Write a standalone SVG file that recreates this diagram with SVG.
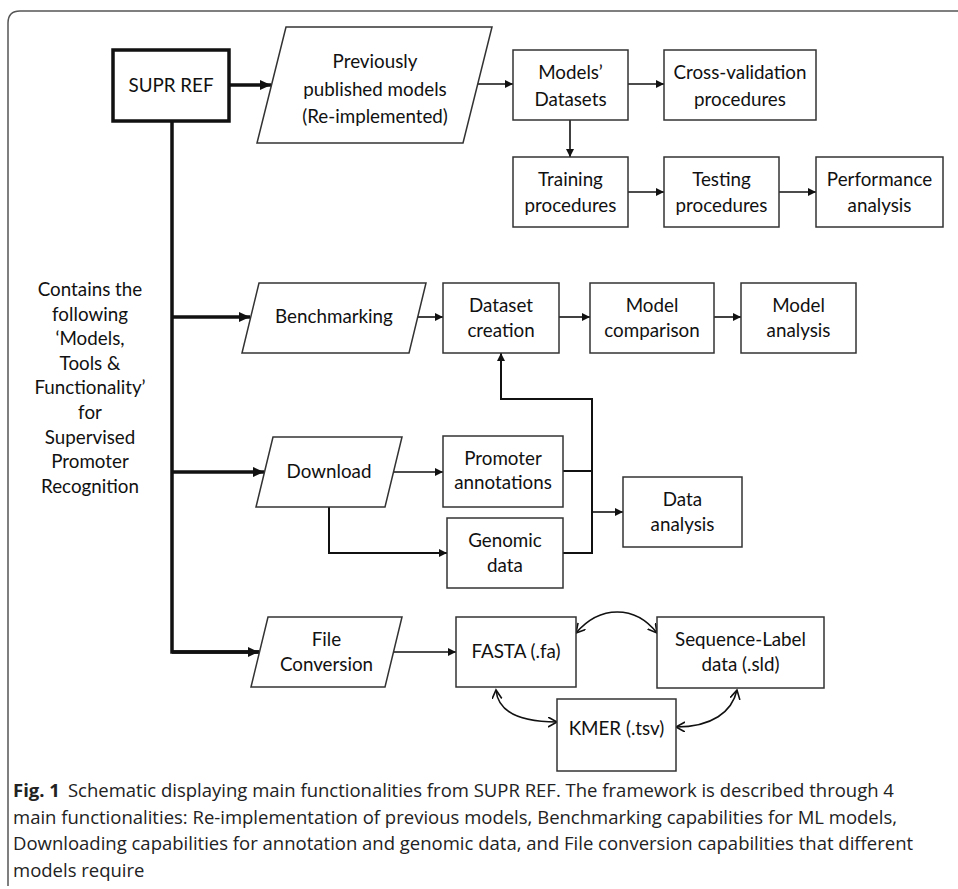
<svg xmlns="http://www.w3.org/2000/svg" width="958" height="889" viewBox="0 0 958 889">
<style>
  .box{fill:#fff;stroke:#333;stroke-width:1.5}
  .thick{fill:#fff;stroke:#111;stroke-width:3.5}
  .t{font-family:Lato,"Liberation Sans",sans-serif;font-size:18.8px;fill:#111;text-anchor:middle}
  .c{fill:none;stroke:#111;stroke-width:1.6}
  .ck{fill:none;stroke:#111;stroke-width:3.5}
  .cap{font-family:"Open Sans","Noto Sans",sans-serif;font-size:18.5px;fill:#222}
</style>
<defs>
  <marker id="a" markerUnits="userSpaceOnUse" markerWidth="10" markerHeight="10" refX="8" refY="4" orient="auto">
    <path d="M0,0 L8,4 L0,8 Z" fill="#111"/>
  </marker>
  <marker id="ak" markerUnits="userSpaceOnUse" markerWidth="14" markerHeight="14" refX="11" refY="5" orient="auto">
    <path d="M0,0 L11,5 L0,10 Z" fill="#111"/>
  </marker>
  <marker id="o" markerUnits="userSpaceOnUse" markerWidth="12" markerHeight="12" refX="9" refY="5" orient="auto-start-reverse">
    <path d="M0,0 L9,5 L0,10" fill="none" stroke="#111" stroke-width="1.6"/>
  </marker>
</defs>
<rect width="958" height="889" fill="#fff"/>
<path d="M8,886 L8,23 Q8,11 20,11 L958,11" fill="none" stroke="#555" stroke-width="1.5"/>

<g id="connectors">
  <path class="ck" d="M229,85 H271" marker-end="url(#ak)"/>
  <path class="ck" d="M172,121 V652 H259"/>
  <path class="ck" d="M172,652 H259" marker-end="url(#ak)"/>
  <path class="ck" d="M172,317 H250" marker-end="url(#ak)"/>
  <path class="ck" d="M172,472 H264" marker-end="url(#ak)"/>
  <path class="c" d="M477,84 H513" marker-end="url(#a)"/>
  <path class="c" d="M628,84 H664" marker-end="url(#a)"/>
  <path class="c" d="M570,120 V157" marker-end="url(#a)"/>
  <path class="c" d="M628,192 H664" marker-end="url(#a)"/>
  <path class="c" d="M779,192 H816" marker-end="url(#a)"/>
  <path class="c" d="M417,317 H443" marker-end="url(#a)"/>
  <path class="c" d="M559,317 H590" marker-end="url(#a)"/>
  <path class="c" d="M714,317 H741" marker-end="url(#a)"/>
  <path class="c" d="M393,472 H443" marker-end="url(#a)"/>
  <path class="c" style="stroke-width:2" d="M329,507 V553 H447" marker-end="url(#a)"/>
  <path class="c" style="stroke-width:2" d="M563,471 H592"/>
  <path class="c" style="stroke-width:2" d="M563,553 H592 V399 H501 V353" marker-end="url(#a)"/>
  <path class="c" d="M592,512 H623" marker-end="url(#a)"/>
  <path class="c" d="M393,652 H456" marker-end="url(#a)"/>
  <path class="c" d="M576,633 C600,605 635,605 657,633" marker-start="url(#o)" marker-end="url(#o)"/>
  <path class="c" d="M496,690 C498,712 520,722 557,722" marker-start="url(#o)" marker-end="url(#o)"/>
  <path class="c" d="M737,690 C732,712 712,727 676,727" marker-start="url(#o)" marker-end="url(#o)"/>
</g>

<g id="supr-ref"><rect class="thick" x="113" y="50" width="116" height="71"/><text class="t" x="171" y="92">SUPR REF</text></g>
<g id="previously"><polygon class="box" points="286,27 492,27 463,143 257,143"/><text class="t" x="375" y="68">Previously</text><text class="t" x="375" y="96">published models</text><text class="t" x="375" y="123">(Re-implemented)</text></g>
<g id="models-datasets"><rect class="box" x="513" y="50" width="115" height="70"/><text class="t" x="570.5" y="79">Models’</text><text class="t" x="570.5" y="106">Datasets</text></g>
<g id="cross-validation"><rect class="box" x="664" y="50" width="152" height="70"/><text class="t" x="740" y="79">Cross-validation</text><text class="t" x="740" y="106">procedures</text></g>
<g id="training"><rect class="box" x="513" y="157" width="115" height="70"/><text class="t" x="570.5" y="186">Training</text><text class="t" x="570.5" y="212">procedures</text></g>
<g id="testing"><rect class="box" x="664" y="157" width="115" height="70"/><text class="t" x="721.5" y="186">Testing</text><text class="t" x="721.5" y="212">procedures</text></g>
<g id="performance"><rect class="box" x="816" y="157" width="127" height="70"/><text class="t" x="879.5" y="186">Performance</text><text class="t" x="879.5" y="212">analysis</text></g>

<g id="contains-label">
  <text class="t" x="90" y="296">Contains the</text>
  <text class="t" x="90" y="320.6">following</text>
  <text class="t" x="90" y="345.2">‘Models,</text>
  <text class="t" x="90" y="369.8">Tools &amp;</text>
  <text class="t" x="90" y="394.4">Functionality’</text>
  <text class="t" x="90" y="419">for</text>
  <text class="t" x="90" y="443.6">Supervised</text>
  <text class="t" x="90" y="468.2">Promoter</text>
  <text class="t" x="90" y="492.8">Recognition</text>
</g>

<g id="benchmarking"><polygon class="box" points="259,283 426,283 409,353 242,353"/><text class="t" x="334" y="323">Benchmarking</text></g>
<g id="dataset-creation"><rect class="box" x="443" y="283" width="116" height="70"/><text class="t" x="501" y="312">Dataset</text><text class="t" x="501" y="337">creation</text></g>
<g id="model-comparison"><rect class="box" x="590" y="283" width="124" height="70"/><text class="t" x="652" y="312">Model</text><text class="t" x="652" y="337">comparison</text></g>
<g id="model-analysis"><rect class="box" x="741" y="283" width="115" height="70"/><text class="t" x="798.5" y="312">Model</text><text class="t" x="798.5" y="337">analysis</text></g>

<g id="download"><polygon class="box" points="273,437 402,437 385,507 256,507"/><text class="t" x="329" y="478">Download</text></g>
<g id="promoter-annotations"><rect class="box" x="443" y="436" width="120" height="71"/><text class="t" x="503" y="465">Promoter</text><text class="t" x="503" y="489">annotations</text></g>
<g id="genomic-data"><rect class="box" x="447" y="518" width="116" height="70"/><text class="t" x="505" y="547">Genomic</text><text class="t" x="505" y="572">data</text></g>
<g id="data-analysis"><rect class="box" x="623" y="477" width="119" height="70"/><text class="t" x="682.5" y="506">Data</text><text class="t" x="682.5" y="531">analysis</text></g>

<g id="file-conversion"><polygon class="box" points="268,617 402,617 385,687 251,687"/><text class="t" x="326.5" y="646">File</text><text class="t" x="326.5" y="671">Conversion</text></g>
<g id="fasta"><rect class="box" x="456" y="617" width="120" height="70"/><text class="t" x="516" y="658">FASTA (.fa)</text></g>
<g id="sequence-label"><rect class="box" x="657" y="617" width="167" height="71"/><text class="t" x="740.5" y="646">Sequence-Label</text><text class="t" x="740.5" y="671">data (.sld)</text></g>
<g id="kmer"><rect class="box" x="557" y="699" width="119" height="72"/><text class="t" x="616.5" y="735">KMER (.tsv)</text></g>

<g id="caption">
  <text class="cap" x="13" y="797"><tspan font-weight="bold">Fig. 1</tspan><tspan dx="8">Schematic displaying main functionalities from SUPR REF. The framework is described through 4</tspan></text>
  <text class="cap" x="13" y="823.5">main functionalities: Re-implementation of previous models, Benchmarking capabilities for ML models,</text>
  <text class="cap" x="13" y="850">Downloading capabilities for annotation and genomic data, and File conversion capabilities that different</text>
  <text class="cap" x="13" y="876.5">models require</text>
</g>
</svg>
